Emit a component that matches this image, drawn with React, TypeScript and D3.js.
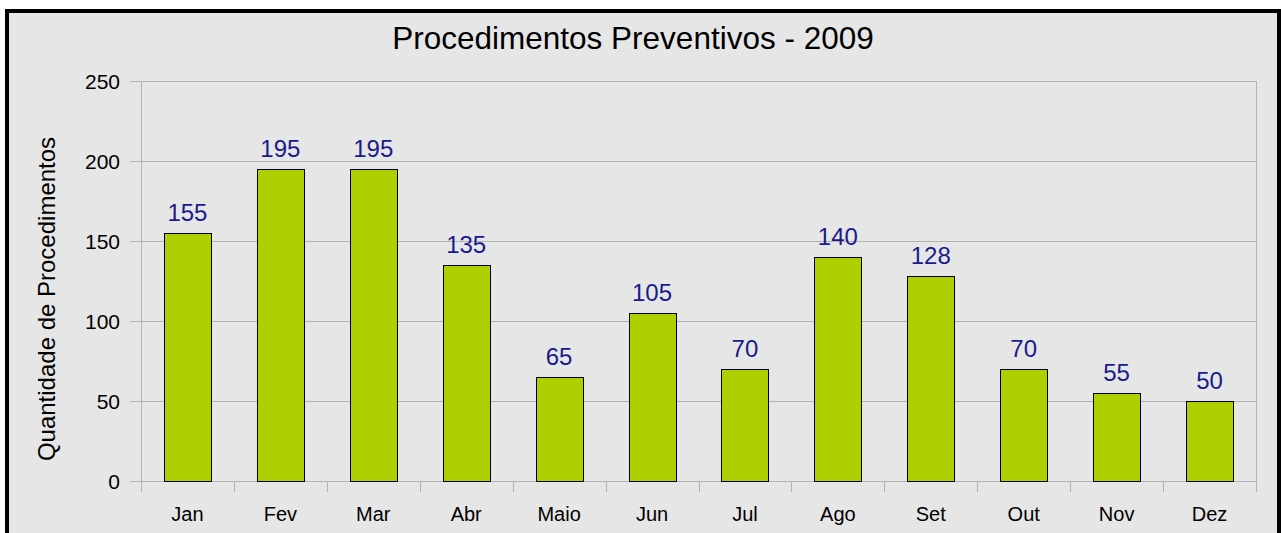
import React from "react";
import * as d3 from "d3";

const categories = ["Jan", "Fev", "Mar", "Abr", "Maio", "Jun", "Jul", "Ago", "Set", "Out", "Nov", "Dez"];
const values = [155, 195, 195, 135, 65, 105, 70, 140, 128, 70, 55, 50];
const yTicks = [0, 50, 100, 150, 200, 250];
const title = "Procedimentos Preventivos - 2009";
const yTitle = "Quantidade de Procedimentos";

const W = 1281;
const H = 533;
const left = 141;
const right = 1256;
const top = 81;
const bottom = 481;
const font = "'Liberation Sans', Arial, sans-serif";

export default function App() {
  const x = d3.scaleBand<string>().domain(categories).range([left, right]).paddingInner(0).paddingOuter(0);
  const y = d3.scaleLinear().domain([0, 250]).range([bottom, top]);
  const bw = x.bandwidth();
  const barW = bw * 0.505;
  return (
    <svg width={W} height={H} style={{ position: "absolute", left: 0, top: 0 }} fontFamily={font}>
      <rect x={0} y={0} width={W} height={H} fill="#ffffff" />
      <rect x={7} y={11} width={1272} height={600} fill="#e6e6e6" stroke="#000" strokeWidth={4} />
      <text x={633} y={49} textAnchor="middle" fontSize={31.5} fill="#000">{title}</text>
      {yTicks.map((t) => (
        <g key={t}>
          <line x1={130} x2={right} y1={Math.round(y(t)) + 0.5} y2={Math.round(y(t)) + 0.5} stroke="#b3b3b3" strokeWidth={1} />
          <text x={120} y={y(t) + 8} textAnchor="end" fontSize={21} fill="#000">{t}</text>
        </g>
      ))}
      <line x1={left + 0.5} x2={left + 0.5} y1={top} y2={492} stroke="#b3b3b3" />
      <line x1={right + 0.5} x2={right + 0.5} y1={top} y2={492} stroke="#b3b3b3" />
      {categories.map((c) => (
        <line key={"t" + c} x1={Math.round(x(c)!) + 0.5} x2={Math.round(x(c)!) + 0.5} y1={bottom} y2={492} stroke="#b3b3b3" />
      ))}
      {categories.map((c, i) => {
        const cx = x(c)! + bw / 2;
        const v = values[i];
        return (
          <g key={c}>
            <rect x={Math.round(cx - barW / 2) + 0.5} y={Math.round(y(v)) + 0.5} width={Math.round(barW)} height={Math.round(y(0)) - Math.round(y(v))} fill="#b0cf00" stroke="#000" strokeWidth={1} />
            <text x={cx} y={y(v) - 12} textAnchor="middle" fontSize={24} fill="#1a1a8c">{v}</text>
            <text x={cx} y={521} textAnchor="middle" fontSize={20} fill="#000">{c}</text>
          </g>
        );
      })}
      <text transform={`translate(55,299) rotate(-90)`} textAnchor="middle" fontSize={24} fill="#000">{yTitle}</text>
    </svg>
  );
}
